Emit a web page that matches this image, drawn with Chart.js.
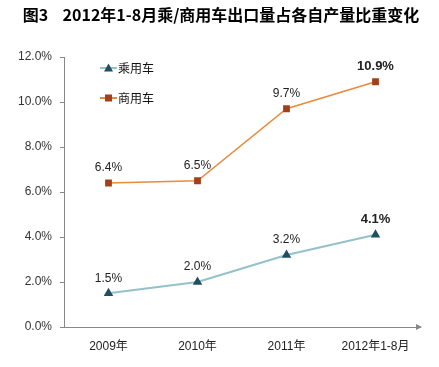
<!DOCTYPE html>
<html><head><meta charset="utf-8">
<script src="https://cdn.jsdelivr.net/npm/chart.js@4/dist/chart.umd.min.js"></script>
<style>html,body{margin:0;padding:0;background:#fff}#wrap{width:439px;height:367px}</style>
</head><body><div id="wrap"><canvas id="c" width="439" height="367"></canvas></div>
<script>
const title = "图3    2012年1-8月乘/商用车出口量占各自产量比重变化";
const categories = ["2009年", "2010年", "2011年", "2012年1-8月"];
const seriesNames = ["乘用车", "商用车"];
const passengerShare = [1.5, 2.0, 3.2, 4.1];
const commercialShare = [6.4, 6.5, 9.7, 10.9];
const yTicks = [0, 2, 4, 6, 8, 10, 12];

const extras = {
  id: 'extras',
  afterDraw(chart) {
    const ctx = chart.ctx;
    const area = chart.chartArea;
    ctx.save();
    // title
    ctx.fillStyle = '#000';
    ctx.font = 'bold 16px "Noto Sans CJK SC", sans-serif';
    ctx.textAlign = 'center';
    ctx.textBaseline = 'middle';
    ctx.fillText(title, 221, 15);
    // arrow at x axis end
    const y0 = chart.scales.y.getPixelForValue(0);
    ctx.fillStyle = '#888';
    ctx.beginPath();
    ctx.moveTo(area.right + 2, y0);
    ctx.lineTo(area.right - 4, y0 - 3);
    ctx.lineTo(area.right - 4, y0 + 3);
    ctx.closePath();
    ctx.fill();
    // data labels
    chart.data.datasets.forEach((ds, di) => {
      const meta = chart.getDatasetMeta(di);
      meta.data.forEach((pt, i) => {
        const last = i === ds.data.length - 1;
        ctx.font = (last ? 'bold 13px' : '12px') + ' "Liberation Sans", Arial, sans-serif';
        ctx.fillStyle = '#222';
        ctx.textAlign = 'center';
        ctx.textBaseline = 'middle';
        ctx.fillText(ds.data[i].toFixed(1) + '%', pt.x, pt.y - 15);
      });
    });
    // legend
    const legendY = [68, 98];
    chart.data.datasets.forEach((ds, di) => {
      const y = legendY[di];
      ctx.strokeStyle = ds.borderColor;
      ctx.lineWidth = 2;
      ctx.beginPath(); ctx.moveTo(100, y); ctx.lineTo(117, y); ctx.stroke();
      ctx.fillStyle = ds.pointBackgroundColor;
      if (ds.pointStyle === 'triangle') {
        ctx.beginPath(); ctx.moveTo(108.5, y - 4.5); ctx.lineTo(113, y + 3.5); ctx.lineTo(104, y + 3.5); ctx.closePath(); ctx.fill();
      } else {
        ctx.fillRect(105, y - 3.5, 7, 7);
      }
      ctx.fillStyle = '#111';
      ctx.font = '12px "Noto Sans CJK SC", sans-serif';
      ctx.textAlign = 'left';
      ctx.fillText(ds.label, 118, y);
    });
    ctx.restore();
  }
};

new Chart(document.getElementById('c'), {
  type: 'line',
  data: {
    labels: categories,
    datasets: [
      { label: seriesNames[0], data: passengerShare, borderColor: '#94c1ca', borderWidth: 2.2,
        pointStyle: 'triangle', pointRadius: 5.5, pointBackgroundColor: '#1f4f60', pointBorderColor: '#1f4f60', pointBorderWidth: 0 },
      { label: seriesNames[1], data: commercialShare, borderColor: '#e98a3d', borderWidth: 1.5,
        pointStyle: 'rect', pointRadius: 4.8, pointBackgroundColor: '#a3401a', pointBorderColor: '#a3401a', pointBorderWidth: 0 }
    ]
  },
  options: {
    responsive: false, animation: false,
    layout: { padding: { top: 57, right: 19, bottom: 0, left: 0 } },
    plugins: { legend: { display: false }, title: { display: false }, tooltip: { enabled: false } },
    scales: {
      x: {
        offset: true,
        grid: { display: false, drawTicks: false },
        border: { display: true, color: '#888', width: 1 },
        ticks: { color: '#222', padding: 12, font: { size: 12, family: '"Liberation Sans", "Noto Sans CJK SC", sans-serif' }, maxRotation: 0 },
        afterFit(s) { s.height = 40; }
      },
      y: {
        min: 0, max: 12,
        afterBuildTicks(s) { s.ticks = yTicks.map(v => ({ value: v })); },
        grid: { drawOnChartArea: false, drawTicks: true, tickLength: 4, color: '#888' },
        border: { display: true, color: '#888', width: 1 },
        ticks: { color: '#333', padding: 8, font: { size: 12, family: '"Liberation Sans", Arial, sans-serif' },
          callback: v => v.toFixed(1) + '%' },
        afterFit(s) { s.width = 64; }
      }
    }
  },
  plugins: [extras]
});
</script></body></html>
